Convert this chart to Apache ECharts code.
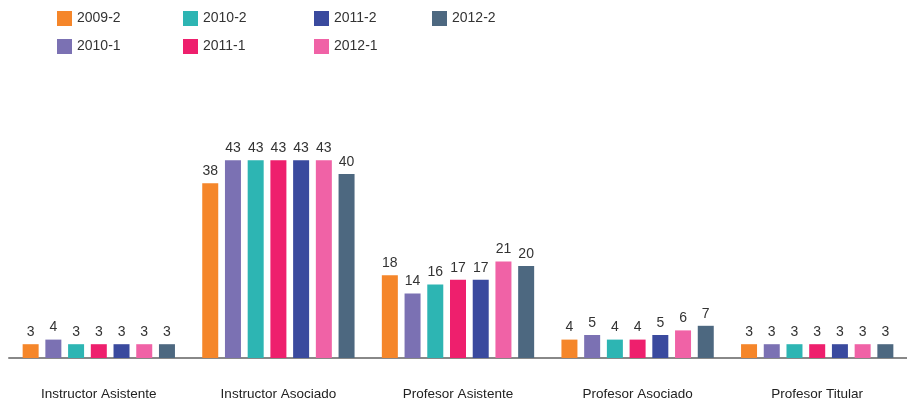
<!DOCTYPE html>
<html>
<head>
<meta charset="utf-8">
<script src="https://cdn.jsdelivr.net/npm/echarts@6/dist/echarts.min.js"></script>
<style>
html, body { margin: 0; padding: 0; background: #fff; }
#chartDiv { width: 907px; height: 401px; }
</style>
</head>
<body>
<div id="chartDiv"></div>
<script>
// categorías y datos
var categories = ['Instructor Asistente', 'Instructor Asociado', 'Profesor Asistente', 'Profesor Asociado', 'Profesor Titular'];
var seriesNames = ['2009-2', '2010-1', '2010-2', '2011-1', '2011-2', '2012-1', '2012-2'];
var d2009_2 = [3, 38, 18, 4, 3];
var d2010_1 = [4, 43, 14, 5, 3];
var d2010_2 = [3, 43, 16, 4, 3];
var d2011_1 = [3, 43, 17, 4, 3];
var d2011_2 = [3, 43, 17, 5, 3];
var d2012_1 = [3, 43, 21, 6, 3];
var d2012_2 = [3, 40, 20, 7, 3];
var allData = [d2009_2, d2010_1, d2010_2, d2011_1, d2011_2, d2012_1, d2012_2];
var colors = ['#F5862A', '#7B71B3', '#2DB5B3', '#EE1F6D', '#3A4A9E', '#F062A6', '#4D6880'];

// posición de cada leyenda (columna, fila)
var legendPos = [[52, 6], [52, 34], [178, 6], [178, 34], [309, 6], [309, 34], [427, 6]];

var legends = seriesNames.map(function (name, i) {
    return {
        data: [name],
        left: legendPos[i][0],
        top: legendPos[i][1],
        itemWidth: 15,
        itemHeight: 15,
        itemGap: 7,
        icon: 'rect',
        textStyle: { fontSize: 14, color: '#333', fontFamily: 'Liberation Sans' },
        selectedMode: false
    };
});

var series = seriesNames.map(function (name, i) {
    return {
        name: name,
        type: 'bar',
        data: allData[i],
        barWidth: 16,
        barGap: '42%',
        itemStyle: { color: colors[i] },
        label: {
            show: true,
            position: 'top',
            distance: 5,
            fontSize: 14,
            color: '#333',
            fontFamily: 'Liberation Sans'
        }
    };
});

var Chart1 = echarts.init(document.getElementById('chartDiv'));
var option = {
    animation: false,
    color: colors,
    legend: legends,
    grid: { left: 9, right: 0, top: 82, bottom: 43, containLabel: false },
    xAxis: {
        type: 'category',
        data: categories,
        axisLine: { lineStyle: { color: '#888', width: 2 } },
        axisTick: { show: false },
        axisLabel: { margin: 29, fontSize: 13.5, color: '#222', fontFamily: 'Liberation Sans' }
    },
    yAxis: {
        type: 'value',
        min: 0,
        max: 60,
        show: false,
        splitLine: { show: false }
    },
    series: series
};
Chart1.setOption(option);
</script>
</body>
</html>
